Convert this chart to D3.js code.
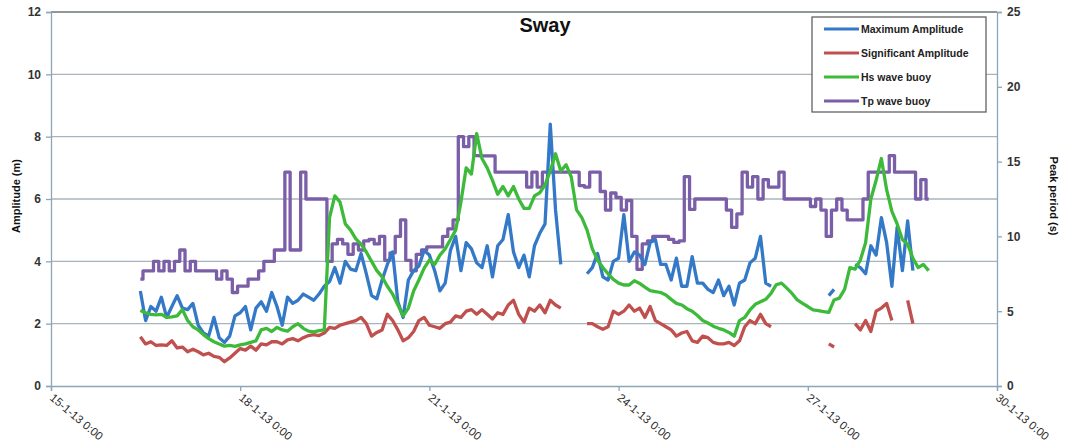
<!DOCTYPE html>
<html>
<head>
<meta charset="utf-8">
<script src="https://cdn.jsdelivr.net/npm/d3@7"></script>
<style>
  body { margin: 0; background: #fff; }
  svg { display: block; font-family: "Liberation Sans", Arial, sans-serif; }
</style>
</head>
<body>
<div id="chart"></div>
<script>
// samples every 2 hours, starting 16-1-13 10:00
var startTime = new Date(2013, 0, 16, 10);
var stepHours = 2;

var tickDates = ["2013-01-15", "2013-01-18", "2013-01-21", "2013-01-24", "2013-01-27", "2013-01-30"];
var ampTicks = [0, 2, 4, 6, 8, 10, 12];
var periodTicks = [0, 5, 10, 15, 20, 25];

var seriesNames = ["Maximum Amplitude", "Significant Amplitude", "Hs wave buoy", "Tp wave buoy"];

var maxAmp = [3.05,2.1,2.55,2.4,2.85,2.2,2.55,2.9,2.5,2.45,2.65,1.95,1.7,1.6,2.2,1.55,1.4,1.6,2.25,2.35,
  2.55,1.8,2.5,2.7,2.4,3.0,2.55,1.95,2.85,2.65,2.75,2.95,2.85,2.75,2.95,3.2,3.35,3.8,3.3,4.0,
  3.75,3.7,4.25,3.6,2.9,2.8,3.4,3.9,4.3,2.7,2.2,3.4,3.7,3.85,4.35,4.2,3.7,3.05,3.3,4.35,
  4.8,3.7,4.6,4.4,3.95,3.8,4.5,3.5,4.5,4.7,5.5,4.3,3.8,4.2,3.5,4.5,4.9,5.2,8.4,5.65,
  3.9,null,null,null,null,3.6,3.8,4.25,3.5,3.4,4.0,4.1,5.5,4.0,4.3,4.2,3.9,4.6,4.7,3.9,
  3.9,3.4,4.1,3.2,3.2,4.15,3.3,3.3,3.1,3.0,3.4,2.9,3.2,2.6,3.3,3.4,3.95,4.1,4.8,3.3,
  3.2,null,null,null,null,null,null,null,null,null,null,2.9,3.1,null,null,null,3.9,3.8,3.6,4.5,
  4.2,5.4,4.6,3.2,5.1,3.7,5.3,3.7,null,null,null];

var sigAmp = [1.58,1.35,1.42,1.3,1.32,1.3,1.45,1.22,1.25,1.1,1.18,1.1,1.0,1.05,0.95,0.92,0.78,0.9,1.05,1.2,
  1.15,1.28,1.15,1.35,1.32,1.42,1.42,1.35,1.48,1.52,1.45,1.55,1.62,1.65,1.62,1.7,1.88,1.85,1.95,2.0,
  2.05,2.1,2.2,2.0,1.6,1.72,1.8,2.3,2.1,1.8,1.45,1.55,1.75,2.1,2.2,1.95,1.9,1.85,2.0,2.05,
  2.25,2.2,2.4,2.45,2.3,2.45,2.3,2.15,2.35,2.3,2.6,2.75,2.3,2.05,2.5,2.4,2.6,2.35,2.75,2.6,
  2.5,null,null,null,null,2.0,2.0,1.9,1.82,1.9,2.4,2.3,2.4,2.6,2.4,2.5,2.2,2.55,2.1,2.0,
  1.9,1.8,1.6,1.7,1.75,1.45,1.4,1.6,1.55,1.4,1.35,1.35,1.4,1.3,1.45,1.9,2.1,2.0,2.3,2.0,
  1.9,null,null,null,null,null,null,null,null,null,null,1.35,1.25,null,null,null,2.0,1.8,2.1,1.75,
  2.4,2.5,2.65,2.1,null,null,2.75,2.0,null,null,null];

var hsBuoy = [2.42,2.35,2.3,2.28,2.3,2.2,2.22,2.25,2.45,2.1,1.9,1.8,1.65,1.52,1.42,1.35,1.28,1.3,1.27,1.32,
  1.35,1.4,1.45,1.8,1.85,1.75,1.88,1.8,1.76,1.9,2.0,1.85,1.76,1.74,1.78,1.8,5.4,6.1,5.9,5.2,
  5.0,4.72,4.55,4.3,4.0,3.7,3.5,3.2,2.95,2.6,2.25,2.5,3.05,3.4,3.78,4.04,3.9,4.2,4.4,4.7,
  5.0,5.9,7.0,6.8,8.1,7.3,7.0,6.6,6.15,6.4,6.1,6.4,6.0,5.7,5.7,6.1,6.2,6.45,6.9,7.45,
  6.9,7.1,6.7,5.65,5.4,5.0,4.4,4.04,3.8,3.6,3.42,3.3,3.24,3.24,3.38,3.29,3.17,3.06,3.03,3.0,
  2.92,2.78,2.65,2.6,2.48,2.4,2.26,2.1,2.02,1.92,1.85,1.8,1.72,1.6,2.1,2.2,2.44,2.62,2.7,2.78,
  2.97,3.25,3.3,3.14,2.97,2.76,2.65,2.55,2.44,2.42,2.39,2.36,2.76,2.82,3.1,3.8,3.75,4.04,4.6,6.0,
  6.6,7.3,6.3,5.6,5.2,4.7,4.55,4.1,3.8,3.9,3.7];

var tpBuoy = [7.14,7.69,7.69,8.33,7.69,8.33,7.69,8.33,9.09,7.69,8.33,7.69,7.69,7.69,7.69,7.14,7.69,7.14,6.25,6.67,
  6.67,7.14,7.14,7.69,8.33,8.33,9.09,9.09,14.29,9.09,9.09,14.29,12.5,12.5,12.5,12.5,8.33,9.5,9.8,9.5,
  8.8,9.5,9.09,9.7,9.8,9.5,10,8.4,8.9,10,11.1,8.4,7.7,8.8,9.1,9.3,9.3,9.3,10,10.5,
  11.1,16.67,16.0,16.67,15.4,15.38,15.38,15.38,14.29,14.29,14.29,14.29,14.29,14.29,13.3,14.29,13.3,14.29,14.29,14.29,
  14.29,14.29,14.29,14.29,13.4,13.3,14.29,14.29,13.0,11.76,12.9,12.6,11.76,12.4,10,7.8,9.5,9.7,10,10,
  10,9.8,9.6,9.7,14.0,11.8,12.5,12.5,12.5,12.5,12.5,12.5,11.76,10.6,11.5,14.29,13.3,14.0,12.5,13.8,
  13.3,13.3,14.29,12.5,12.5,12.5,12.5,12.5,12.0,12.5,11.76,10,11.76,12.5,11.76,11.11,11.11,11.11,12.5,14.29,
  14.29,14.29,14.29,15.4,14.29,14.29,14.29,14.29,12.5,13.8,12.5];

var colors = ["#3479c8", "#c0504d", "#3dba3a", "#7b5ea8"];

var width = 1066, height = 448;
var plot = {left: 51, right: 997, top: 12, bottom: 386};

var parseDay = d3.timeParse("%Y-%m-%d");
var fmt = d3.timeFormat("%-d-%-m-%y %-H:%M");

var times = maxAmp.map(function(d, i) { return d3.timeHour.offset(startTime, i * stepHours); });

var x = d3.scaleTime()
  .domain([parseDay(tickDates[0]), parseDay(tickDates[tickDates.length - 1])])
  .range([plot.left, plot.right]);
var y = d3.scaleLinear().domain([0, 12]).range([plot.bottom, plot.top]);
var y2 = d3.scaleLinear().domain([0, 25]).range([plot.bottom, plot.top]);

var svg = d3.select("#chart").append("svg")
  .attr("width", width)
  .attr("height", height);

//gridlines
svg.append("g")
  .selectAll("line")
  .data(ampTicks.slice(1, -1))
  .enter().append("line")
    .attr("x1", plot.left).attr("x2", plot.right)
    .attr("y1", function(d) { return y(d); })
    .attr("y2", function(d) { return y(d); })
    .attr("stroke", "#a9b4bb")
    .attr("stroke-width", 1.3);

//top border
svg.append("line")
  .attr("x1", plot.left).attr("x2", plot.right)
  .attr("y1", y(12)).attr("y2", y(12))
  .attr("stroke", "#6e7478")
  .attr("stroke-width", 1.3);

//axes
var axisColor = "#8aa6b8";

var gx = svg.append("g")
  .attr("transform", "translate(0," + plot.bottom + ")")
  .call(d3.axisBottom(x).tickValues(tickDates.map(parseDay)).tickSize(5).tickFormat(""));

var gy = svg.append("g")
  .attr("transform", "translate(" + plot.left + ",0)")
  .call(d3.axisLeft(y).tickValues(ampTicks).tickSize(5).tickPadding(5));

var gy2 = svg.append("g")
  .attr("transform", "translate(" + plot.right + ",0)")
  .call(d3.axisRight(y2).tickValues(periodTicks).tickSize(5).tickPadding(5));

[gx, gy, gy2].forEach(function(g) {
  g.select(".domain").attr("stroke", axisColor).attr("stroke-width", 1.3);
  g.selectAll(".tick line").attr("stroke", axisColor).attr("stroke-width", 1.3);
  g.selectAll(".tick text")
    .attr("fill", "#333")
    .attr("font-size", 12)
    .attr("font-weight", "bold");
});

//rotated date labels
svg.append("g")
  .selectAll("text")
  .data(tickDates.map(parseDay))
  .enter().append("text")
    .attr("transform", function(d) { return "translate(" + (x(d) - 2) + "," + (plot.bottom + 13) + ") rotate(40)"; })
    .attr("fill", "#2a2a2a")
    .attr("font-size", 11.5)
    .attr("text-anchor", "start")
    .text(function(d) { return fmt(d); });

//lines
function line(scale, curve) {
  return d3.line()
    .defined(function(d) { return d[1] != null; })
    .curve(curve)
    .x(function(d) { return x(d[0]); })
    .y(function(d) { return scale(d[1]); });
}

function pairs(values) {
  return values.map(function(v, i) { return [times[i], v]; });
}

// Tp comes in discrete period bins, so it is drawn as steps
var drawOrder = [
  {values: tpBuoy, scale: y2, color: colors[3], curve: d3.curveStep},
  {values: maxAmp, scale: y, color: colors[0], curve: d3.curveLinear},
  {values: sigAmp, scale: y, color: colors[1], curve: d3.curveLinear},
  {values: hsBuoy, scale: y, color: colors[2], curve: d3.curveLinear}
];

drawOrder.forEach(function(s) {
  svg.append("path")
    .datum(pairs(s.values))
    .attr("fill", "none")
    .attr("stroke", s.color)
    .attr("stroke-width", 3.3)
    .attr("stroke-linejoin", "round")
    .attr("d", line(s.scale, s.curve));
});

//title
svg.append("text")
  .attr("x", 545)
  .attr("y", 32)
  .attr("text-anchor", "middle")
  .attr("font-size", 20)
  .attr("font-weight", "bold")
  .attr("fill", "#111")
  .text("Sway");

//axis titles
svg.append("text")
  .attr("transform", "translate(20,196) rotate(-90)")
  .attr("text-anchor", "middle")
  .attr("font-size", 11)
  .attr("font-weight", "bold")
  .attr("fill", "#111")
  .text("Amplitude (m)");

svg.append("text")
  .attr("transform", "translate(1050,196) rotate(90)")
  .attr("text-anchor", "middle")
  .attr("font-size", 11)
  .attr("font-weight", "bold")
  .attr("fill", "#111")
  .text("Peak period (s)");

//legend
var legend = svg.append("g").attr("transform", "translate(812,17)");
legend.append("rect")
  .attr("width", 174)
  .attr("height", 95)
  .attr("fill", "#fff")
  .attr("stroke", "#555")
  .attr("stroke-width", 1.2);

var item = legend.selectAll(".item")
  .data(seriesNames)
  .enter().append("g")
    .attr("class", "item")
    .attr("transform", function(d, i) { return "translate(0," + (12 + i * 24) + ")"; });

item.append("line")
  .attr("x1", 12).attr("x2", 47)
  .attr("stroke", function(d, i) { return colors[i]; })
  .attr("stroke-width", 3);

item.append("text")
  .attr("x", 49)
  .attr("y", 4)
  .attr("font-size", 10.5)
  .attr("font-weight", "bold")
  .attr("fill", "#222")
  .text(function(d) { return d; });
</script>
</body>
</html>
